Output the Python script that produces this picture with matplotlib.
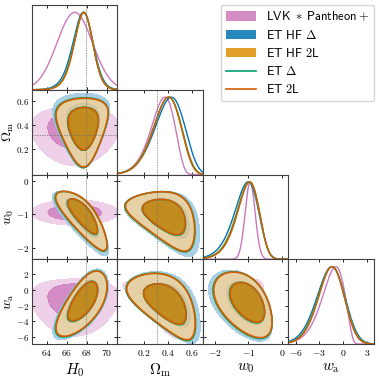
import numpy as np
import matplotlib.pyplot as plt
from matplotlib.patches import Patch
from matplotlib.lines import Line2D
from matplotlib.colors import to_rgb

plt.rcParams['mathtext.fontset'] = 'cm'
plt.rcParams['font.family'] = ['DejaVu Serif']

# datasets (bottom to top)
names = [r'$\mathsf{LVK}\;\ast\;\mathsf{Pantheon}+$', r'$\mathsf{ET}\ \mathsf{HF}\ \Delta$',
         r'$\mathsf{ET}\ \mathsf{HF}\ \mathsf{2L}$', r'$\mathsf{ET}\ \Delta$', r'$\mathsf{ET}\ \mathsf{2L}$']
colors = ['#cc78bc', '#0173b2', '#de8f05', '#029e73', '#d55e00']
filled = [True, True, True, False, False]

# posterior summaries: H0, Omega_m, w0, wa
H0_mean = [66.8, 67.55, 67.6, 67.6, 67.62]
H0_sd = [1.75, 1.03, 0.96, 0.95, 0.93]
H0_skew = [0.0, -0.04, -0.04, -0.04, -0.04]
Om_mean = [0.34, 0.4, 0.38, 0.38, 0.38]
Om_sd = [0.1, 0.124, 0.117, 0.115, 0.113]
Om_skew = [-0.12, -0.08, -0.08, -0.08, -0.08]
w0_mean = [-0.95, -1.11, -1.07, -1.06, -1.05]
w0_sd = [0.13, 0.37, 0.345, 0.34, 0.335]
w0_skew = [0.0, -0.06, -0.06, -0.06, -0.06]
wa_mean = [-1.6, -1.62, -1.58, -1.58, -1.55]
wa_sd = [1.5, 1.78, 1.68, 1.66, 1.63]
wa_skew = [-0.15, 0.0, 0.0, 0.0, 0.0]
# how fast the width of H0, w0, wa grows with Omega_m
H0_spread = [0.0, 0.2, 0.2, 0.2, 0.2]
w0_spread = [0.0, 0.12, 0.12, 0.12, 0.12]
wa_spread = [0.0, 0.1, 0.1, 0.1, 0.1]

corr_lvk = [[1.0, 0.0, 0.0, 0.0],
            [0.0, 1.0, -0.7, -0.6],
            [0.0, -0.7, 1.0, 0.3],
            [0.0, -0.6, 0.3, 1.0]]
corr_et = [[1.0, 0.0, -0.82, 0.7],
           [0.0, 1.0, -0.45, -0.55],
           [-0.82, -0.45, 1.0, -0.45],
           [0.7, -0.55, -0.45, 1.0]]
corrs = [corr_lvk, corr_et, corr_et, corr_et, corr_et]

labels = [r'$H_0$', r'$\Omega_{\rm m}$', r'$w_0$', r'$w_{\rm a}$']
lims = [(62.55, 71.05), (-0.015, 0.69), (-2.34, 0.18), (-6.9, 3.9)]
ticks = [[64, 66, 68, 70], [0.2, 0.4, 0.6], [-2, -1, 0], [-6, -3, 0, 3]]
yticks = [None, [0.2, 0.4, 0.6], [-2, -1, 0], [-6, -4, -2, 0, 2]]
truth = [67.9, 0.31, None, None]

# latent grid weighted by a standard normal, turned so no axis lines up with the grid
ng = 34
u1 = np.linspace(-4.3, 4.3, ng)
g1 = np.exp(-0.5 * u1 ** 2)
U = np.stack(np.meshgrid(u1, u1, u1, u1, indexing='ij')).reshape(4, -1)
W = np.einsum('i,j,k,l->ijkl', g1, g1, g1, g1).ravel()
Q, _ = np.linalg.qr(np.array([[1.0, 0.3, -0.7, 0.2], [0.5, -1.1, 0.4, 0.9],
                              [-0.2, 0.6, 1.3, 0.5], [0.8, 0.7, 0.1, -1.2]]))
U = Q @ U


def make_points(k):
    mu = [H0_mean[k], Om_mean[k], w0_mean[k], wa_mean[k]]
    sd = [H0_sd[k], Om_sd[k], w0_sd[k], wa_sd[k]]
    sk = [H0_skew[k], Om_skew[k], w0_skew[k], wa_skew[k]]
    sp = [H0_spread[k], 0.0, w0_spread[k], wa_spread[k]]
    L = np.linalg.cholesky(np.array(corrs[k]))
    Z = L @ U
    X = np.empty_like(Z)
    for i in range(4):
        y = (Z[i] + sk[i] * (Z[i] ** 2 - 1)) * np.exp(sp[i] * Z[1])
        X[i] = mu[i] + sd[i] * y
    return X


def kern(n, s):
    i = np.arange(n)
    return np.exp(-0.5 * ((i[:, None] - i[None, :]) / s) ** 2)


def dens1d(x, lim):
    lo, hi = lim
    pad = 0.3 * (hi - lo)
    h, e = np.histogram(x, bins=240, range=(lo - pad, hi + pad), weights=W)
    h = kern(240, 4.0) @ h
    return 0.5 * (e[1:] + e[:-1]), h / h.max()


def dens2d(x, y, xl, yl):
    px = 0.3 * (xl[1] - xl[0])
    py = 0.3 * (yl[1] - yl[0])
    H, xe, ye = np.histogram2d(x, y, bins=120, range=[(xl[0] - px, xl[1] + px), (yl[0] - py, yl[1] + py)],
                               weights=W)
    K = kern(120, 2.4)
    H = K @ H @ K.T
    hs = np.sort(H.ravel())[::-1]
    c = np.cumsum(hs) / hs.sum()
    lv = [hs[np.searchsorted(c, 0.95)], hs[np.searchsorted(c, 0.68)]]
    return 0.5 * (xe[1:] + xe[:-1]), 0.5 * (ye[1:] + ye[:-1]), H.T, lv


def pale(c, p=0.6):
    r = np.array(to_rgb(c))
    return tuple(r * (1 - p) + p)


pts = [make_points(k) for k in range(len(names))]

fig, axes = plt.subplots(4, 4, figsize=(3.79, 3.79), dpi=100)
fig.subplots_adjust(left=0.0844, right=0.9868, bottom=0.0923, top=0.9868, wspace=0, hspace=0)

for i in range(4):
    for j in range(4):
        ax = axes[i, j]
        if j > i:
            ax.set_visible(False)
            continue
        if i == j:
            for k in range(len(names)):
                xc, d = dens1d(pts[k][j], lims[j])
                ax.plot(xc, d, color=colors[k], lw=1.0)
            ax.set_ylim(0, 1.095)
            ax.set_yticks([])
            if truth[j] is not None:
                ax.axvline(truth[j], color='0.45', lw=0.5, ls=(0, (2, 1.5)), zorder=10)
        else:
            for k in range(len(names)):
                xc, yc, H, lv = dens2d(pts[k][j], pts[k][i], lims[j], lims[i])
                if filled[k]:
                    ax.contourf(xc, yc, H, levels=[lv[0], lv[1], H.max() * 1.01],
                                colors=[pale(colors[k]), colors[k]], alpha=0.85)
                else:
                    ax.contour(xc, yc, H, levels=lv, colors=colors[k], linewidths=1.2)
            if truth[j] is not None:
                ax.axvline(truth[j], color='0.45', lw=0.5, ls=(0, (2, 1.5)), zorder=10)
            if truth[i] is not None:
                ax.axhline(truth[i], color='0.45', lw=0.5, ls=(0, (2, 1.5)), zorder=10)
            ax.set_ylim(lims[i])
            ax.set_yticks(yticks[i])
            if j == 0:
                ax.set_yticklabels(['$%g$' % t for t in yticks[i]], fontsize=6.5)
                ax.set_ylabel(labels[i], fontsize=10)
                ax.yaxis.set_label_coords(-0.185, 0.5)
            else:
                ax.set_yticklabels([])
        ax.set_xlim(lims[j])
        ax.set_xticks(ticks[j])
        if i == 3:
            ax.set_xticklabels(['$%g$' % t for t in ticks[j]], fontsize=7)
            ax.set_xlabel(labels[j], fontsize=11)
            ax.xaxis.set_label_coords(0.5, -0.2)
        else:
            ax.set_xticklabels([])
        ax.tick_params(direction='in', length=2.5, width=0.6, top=True, right=(i != j), pad=3)
        ax.tick_params(axis='y', pad=2)
        for sp in ax.spines.values():
            sp.set_linewidth(0.8)
            sp.set_color('0.25')

handles = []
for k in range(len(names)):
    if filled[k]:
        handles.append(Patch(facecolor=colors[k], alpha=0.85))
    else:
        handles.append(Line2D([], [], color=colors[k], lw=1.2))
fig.legend(handles, names, loc='upper right', bbox_to_anchor=(0.987, 0.987), fontsize=9,
           frameon=True, fancybox=True, edgecolor='0.8', handlelength=2.4, handleheight=0.8,
           labelspacing=0.42, borderpad=0.4, handletextpad=0.8, borderaxespad=0)

fig.savefig('out.png', dpi=100)
